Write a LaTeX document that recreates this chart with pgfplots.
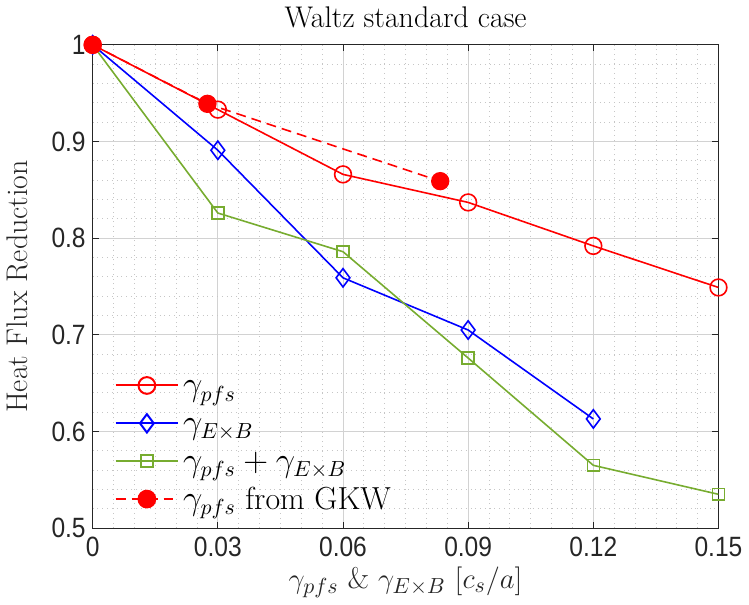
\documentclass[border=0pt]{standalone}
\usepackage{pgfplots}
\pgfplotsset{compat=1.18}
\usepackage{fontspec}
\newfontfamily\ticksf[FakeStretch=0.88]{Liberation Sans}
\definecolor{mgreen}{rgb}{0.466,0.674,0.188}
\definecolor{axgray}{rgb}{0.15,0.15,0.15}
\newcommand{\lstrut}{\rule[-5.5pt]{0pt}{17.5pt}}
\begin{document}
\begin{tikzpicture}
\begin{axis}[
  scale only axis,
  width=314pt, height=242.5pt,
  xmin=0, xmax=0.15, ymin=0.5, ymax=1,
  xtick={0,0.03,0.06,0.09,0.12,0.15},
  xticklabels={0,0.03,0.06,0.09,0.12,0.15},
  ytick={0.5,0.6,0.7,0.8,0.9,1},
  yticklabels={0.5,0.6,0.7,0.8,0.9,1},
  minor x tick num=5, minor y tick num=4,
  minor tick length=0pt,
  major tick length=3pt,
  tick align=inside,
  tick style={axgray, line width=0.4pt},
  axis line style={axgray, line width=0.5pt},
  grid=both,
  major grid style={gray!35, line width=0.4pt},
  minor grid style={gray!45, dotted, line width=0.4pt},
  ticklabel style={font=\ticksf\fontsize{14}{14}\selectfont, text=axgray},
  xticklabel style={yshift=-1pt},
  title={Waltz standard case},
  title style={font=\fontsize{15}{15}\selectfont, yshift=-1pt},
  xlabel={$\gamma_{pfs}$ \& $\gamma_{E\times B}$ $[c_s/a]$},
  xlabel style={yshift=2pt},
  ylabel={Heat Flux Reduction},
  ylabel style={yshift=5pt},
  label style={font=\fontsize{15}{15}\selectfont, text=axgray},
  legend style={at={(0.025,0.015)}, anchor=south west, draw=none, fill=none,
    font=\fontsize{16}{18}\selectfont, row sep=1.5pt},
  legend cell align=left,
  legend image code/.code={\draw[line width=1pt, mark repeat=2,mark phase=2] plot coordinates {(0cm,0cm) (0.55cm,0cm) (1.1cm,0cm)};},
]
\addplot[red, line width=0.8pt, mark=o, mark size=4.2pt, mark options={fill=white, solid}]
  coordinates {(0,1) (0.03,0.933) (0.06,0.866) (0.09,0.837) (0.12,0.792) (0.15,0.749)};
\addlegendentry{\lstrut$\gamma_{pfs}$}
\addplot[blue, line width=0.8pt, mark=diamond, mark size=4.6pt, mark options={fill=white, solid}]
  coordinates {(0,1) (0.03,0.891) (0.06,0.759) (0.09,0.705) (0.12,0.613)};
\addlegendentry{\lstrut$\gamma_{E\times B}$}
\addplot[mgreen, line width=0.8pt, mark=square, mark size=3pt, mark options={fill=white, solid}]
  coordinates {(0,1) (0.03,0.826) (0.06,0.786) (0.09,0.676) (0.12,0.565) (0.15,0.535)};
\addlegendentry{\lstrut$\gamma_{pfs}+\gamma_{E\times B}$}
\addplot[red, line width=0.8pt, dash pattern=on 5pt off 3pt, mark=*, mark size=4.2pt, mark options={fill=red, solid}]
  coordinates {(0,1) (0.0275,0.939) (0.0833,0.859)};
\addlegendentry{\lstrut$\gamma_{pfs}$ from GKW}
\end{axis}
\end{tikzpicture}
\end{document}
